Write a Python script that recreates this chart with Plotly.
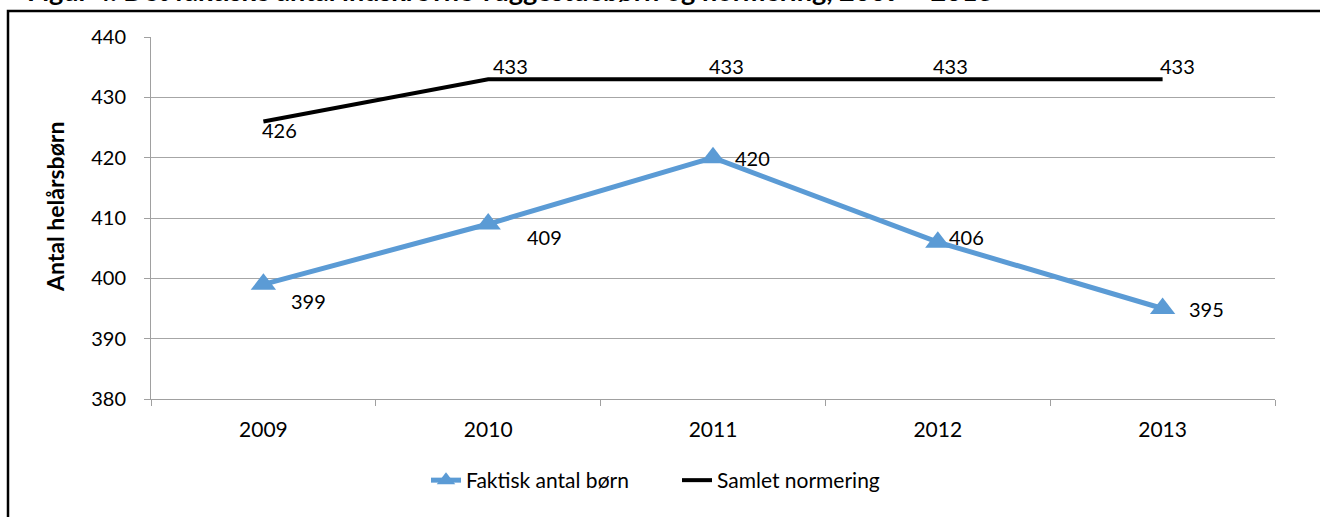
import plotly.graph_objects as go

# Data
years = ["2009", "2010", "2011", "2012", "2013"]
faktisk = [399, 409, 420, 406, 395]
normering = [426, 433, 433, 433, 433]
y_ticks = [380, 390, 400, 410, 420, 430, 440]

# Label offsets in pixels (dx, dy) – Excel-style data label placement
faktisk_offsets = [(45, -17), (56, -13), (39, 0), (29, 5), (44, 0)]
normering_offsets = [(16, -9), (22, 13), (13, 13), (13, 13), (15, 13)]

FONT = "Lato, 'Noto Sans', sans-serif"
W, H = 1320, 517
L, R, T, B = 151, 45, 37, 118
pw, ph = W - L - R, H - T - B


def px_x(px):
    return (px - L) / pw


def px_y(py):
    return (H - B - py) / ph


fig = go.Figure()

fig.add_trace(go.Scatter(
    x=years, y=faktisk, mode="lines+markers", name="Faktisk antal børn",
    line=dict(color="#5B9BD5", width=5),
    marker=dict(symbol="triangle-up", size=22, color="#5B9BD5"),
    legend="legend",
))
fig.add_trace(go.Scatter(
    x=years, y=normering, mode="lines", name="Samlet normering",
    line=dict(color="#000000", width=4),
    legend="legend2",
))

annotations = []
# category axis -> place labels by category index
for i, (v, (dx, dy)) in enumerate(zip(faktisk, faktisk_offsets)):
    annotations.append(dict(x=i, y=v, text=str(v), showarrow=False,
                            xshift=dx, yshift=dy, font=dict(size=20, color="black")))
for i, (v, (dx, dy)) in enumerate(zip(normering, normering_offsets)):
    annotations.append(dict(x=i, y=v, text=str(v), showarrow=False,
                            xshift=dx, yshift=dy, font=dict(size=20, color="black")))

# cropped figure caption at the very top
annotations.append(dict(
    xref="paper", yref="paper", x=px_x(25), y=px_y(9), xanchor="left", yanchor="bottom",
    text="<b>Figur 4. Det faktiske antal indskrevne vuggestuebørn og normering, 2009 – 2013</b>",
    showarrow=False, font=dict(size=27, color="black"),
))
# y-axis title (sits a little above the plot's middle in the reference)
annotations.append(dict(
    xref="paper", yref="paper", x=px_x(55), y=px_y(207), xanchor="center", yanchor="middle",
    text="<b>Antal helårsbørn</b>", textangle=-90, showarrow=False,
    font=dict(size=23, color="black"),
))

legend_style = dict(orientation="h", yanchor="top", y=px_y(460), xanchor="left",
                    font=dict(size=21), bgcolor="rgba(0,0,0,0)")

fig.update_layout(
    width=W, height=H,
    margin=dict(l=L, r=R, t=T, b=B),
    paper_bgcolor="white", plot_bgcolor="white",
    font=dict(family=FONT, size=20, color="black"),
    showlegend=True,
    legend=dict(x=px_x(426), **legend_style),
    legend2=dict(x=px_x(677), **legend_style),
    annotations=annotations,
    shapes=[dict(type="rect", xref="paper", yref="paper",
                 x0=px_x(8), x1=px_x(1330), y0=px_y(530), y1=px_y(11),
                 line=dict(color="black", width=2.5), layer="below")],
)

fig.update_xaxes(
    type="category", range=[-0.5, 4.5], tickson="boundaries",
    showgrid=False, showline=True, linecolor="#A0A0A0", linewidth=1,
    ticks="outside", ticklen=6, tickcolor="#A0A0A0", ticklabelstandoff=12,
    tickfont=dict(size=21), zeroline=False,
)
fig.update_yaxes(
    range=[380, 440], tickvals=y_ticks,
    showgrid=True, gridcolor="#A6A6A6", gridwidth=1,
    showline=True, linecolor="#A0A0A0", linewidth=1,
    ticks="outside", ticklen=6, tickcolor="#A0A0A0", zeroline=False,
    ticklabelstandoff=14,
)

# page body has an 8px default margin; drop it so the figure sits at 0,0
fig.write_html("out.html", config={"displayModeBar": False},
               post_script="document.body.style.margin='0';")
